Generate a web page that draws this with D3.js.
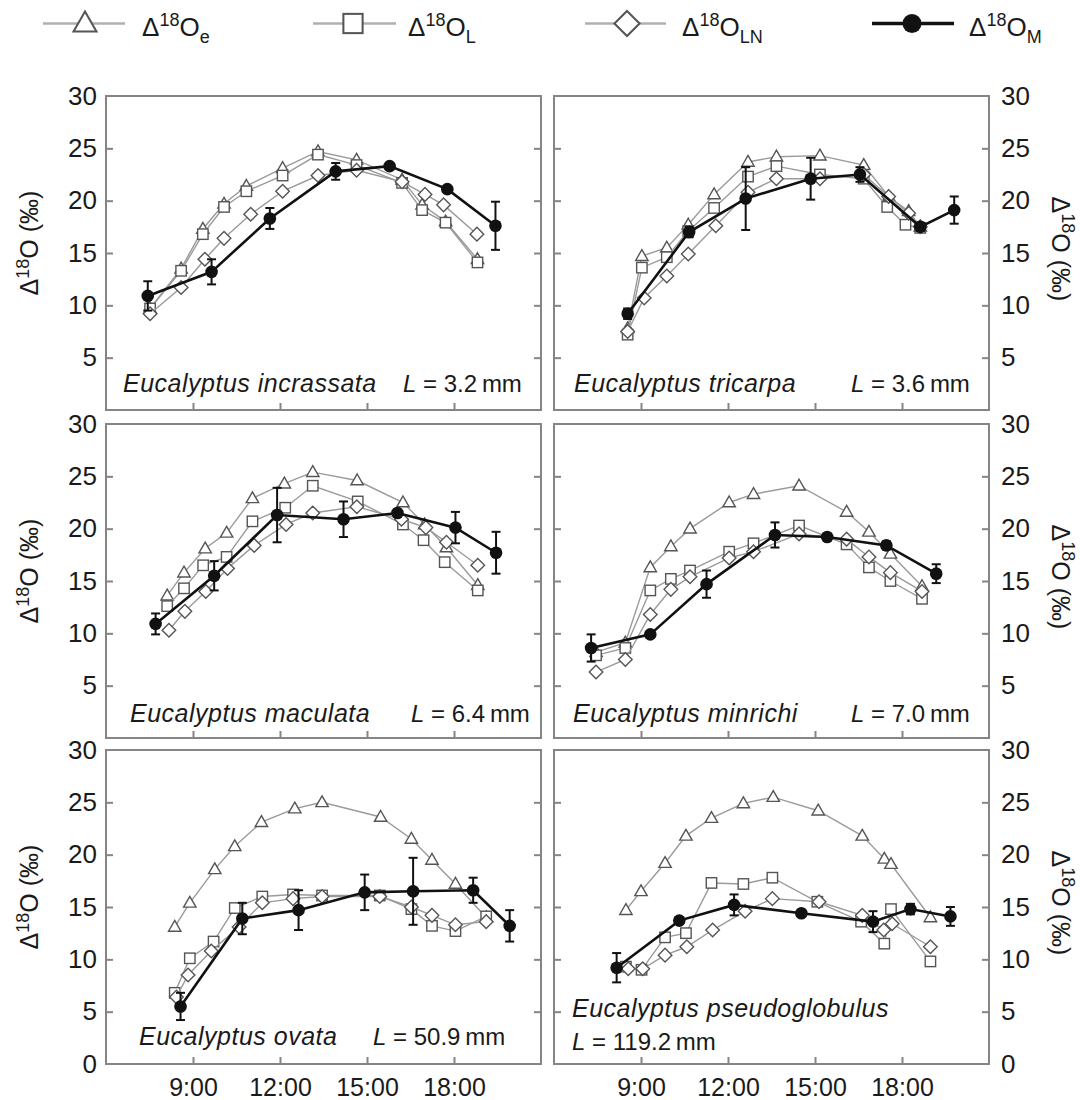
<!DOCTYPE html>
<html>
<head>
<meta charset="utf-8">
<script src="https://cdn.jsdelivr.net/npm/d3@7/dist/d3.min.js"></script>
<style>
  body { margin: 0; background: #fff; }
  svg { display: block; }
  text { font-family: "Liberation Sans", Arial, Helvetica, sans-serif; fill: #1a1a1a; }
</style>
</head>
<body>
<svg id="chart" width="1080" height="1100"></svg>
<script>
// ---- data -------------------------------------------------------------
const species = ['Eucalyptus incrassata', 'Eucalyptus tricarpa', 'Eucalyptus maculata',
                 'Eucalyptus minrichi', 'Eucalyptus ovata', 'Eucalyptus pseudoglobulus'];
const leafLength = ['3.2', '3.6', '6.4', '7.0', '50.9', '119.2'];
const timeTicks = [9, 12, 15, 18];
const timeLabels = ['9:00', '12:00', '15:00', '18:00'];
const yTickMarks = [5, 10, 15, 20, 25];
const yLabelsTop = [5, 10, 15, 20, 25, 30];
const yLabelsBottom = [0, 5, 10, 15, 20, 25, 30];
const legendSubs = ['e', 'L', 'LN', 'M'];

// e / L / LN : [hour, per mil]    M : [hour, per mil, error]
const incrassataE = [[7.52, 9.7], [8.59, 13.5], [9.34, 17.3], [10.07, 19.7], [10.84, 21.4], [12.09, 23.1], [13.31, 24.7], [14.64, 23.9], [16.21, 22.0], [16.9, 19.6], [17.71, 18.0], [18.81, 14.4]];
const incrassataL = [[7.52, 9.7], [8.59, 13.3], [9.34, 16.8], [10.07, 19.4], [10.84, 20.9], [12.09, 22.4], [13.31, 24.4], [14.64, 23.4], [16.21, 21.7], [16.9, 19.1], [17.71, 17.9], [18.81, 14.1]];
const incrassataLN = [[7.52, 9.2], [8.59, 11.7], [9.41, 14.4], [10.07, 16.4], [10.99, 18.7], [12.09, 20.9], [13.31, 22.4], [14.64, 22.9], [16.21, 21.8], [17.0, 20.6], [17.64, 19.6], [18.79, 16.8]];
const incrassataM = [[7.44, 10.9, 1.4], [9.64, 13.2, 1.2], [11.65, 18.3, 1.0], [13.92, 22.8, 0.8], [15.78, 23.3, 0.3], [17.77, 21.1, 0.3], [19.43, 17.6, 2.3]];

const tricarpaE = [[8.54, 7.8], [9.03, 14.7], [9.89, 15.5], [10.63, 17.7], [11.52, 20.6], [12.69, 23.7], [13.67, 24.2], [15.17, 24.3], [16.68, 23.4], [17.54, 20.4], [18.23, 19.0], [18.63, 17.5]];
const tricarpaL = [[8.54, 7.2], [9.03, 13.6], [9.89, 14.6], [10.63, 17.1], [11.52, 19.3], [12.69, 22.3], [13.67, 23.3], [15.17, 22.5], [16.68, 22.1], [17.49, 19.4], [18.12, 17.7], [18.63, 17.4]];
const tricarpaLN = [[8.54, 7.5], [9.11, 10.7], [9.89, 12.8], [10.63, 14.9], [11.58, 17.6], [12.69, 20.8], [13.67, 22.1], [15.17, 22.1], [16.68, 22.5], [17.54, 20.4], [18.23, 18.8], [18.63, 17.5]];
const tricarpaM = [[8.54, 9.2, 0.5], [10.66, 17.0, 0.5], [12.61, 20.2, 3.0], [14.85, 22.1, 2.0], [16.55, 22.5, 0.7], [18.63, 17.5, 0.4], [19.80, 19.1, 1.3]];

const maculataE = [[8.11, 13.6], [8.69, 15.8], [9.42, 18.1], [10.16, 19.6], [11.05, 22.9], [12.15, 24.3], [13.13, 25.4], [14.66, 24.6], [16.24, 22.5], [16.99, 20.4], [17.74, 18.2], [18.82, 14.6]];
const maculataL = [[8.11, 12.6], [8.69, 14.3], [9.35, 16.5], [10.16, 17.3], [11.05, 20.7], [12.18, 22.0], [13.13, 24.1], [14.68, 22.6], [16.24, 20.4], [16.95, 18.9], [17.68, 16.8], [18.82, 14.1]];
const maculataLN = [[8.17, 10.3], [8.72, 12.1], [9.44, 14.0], [10.19, 16.2], [11.11, 18.4], [12.21, 20.4], [13.13, 21.5], [14.65, 22.1], [16.19, 20.9], [17.03, 20.1], [17.74, 18.7], [18.82, 16.5]];
const maculataM = [[7.71, 10.9, 1.0], [9.73, 15.5, 1.4], [11.90, 21.3, 2.6], [14.19, 20.9, 1.7], [16.05, 21.5, 0.3], [18.05, 20.1, 1.5], [19.45, 17.7, 2.0]];

const minrichiE = [[7.45, 8.2], [8.46, 9.1], [9.32, 16.3], [10.03, 18.3], [10.69, 20.0], [12.04, 22.5], [12.88, 23.3], [14.45, 24.1], [16.09, 21.6], [16.86, 19.7], [17.6, 17.6], [18.69, 14.5]];
const minrichiL = [[7.45, 7.9], [8.46, 8.6], [9.32, 14.1], [10.03, 15.2], [10.69, 16.0], [12.04, 17.8], [12.88, 18.6], [14.45, 20.3], [16.09, 18.5], [16.86, 16.3], [17.6, 15.0], [18.69, 13.3]];
const minrichiLN = [[7.45, 6.3], [8.46, 7.5], [9.32, 11.8], [10.03, 14.2], [10.69, 15.4], [12.04, 17.2], [12.88, 17.8], [14.45, 19.5], [16.09, 19.0], [16.86, 17.3], [17.6, 15.8], [18.69, 14.0]];
const minrichiM = [[7.28, 8.6, 1.3], [9.32, 9.9, 0.3], [11.26, 14.7, 1.3], [13.62, 19.4, 1.2], [15.42, 19.2, 0.3], [17.46, 18.4, 0.4], [19.18, 15.7, 0.9]];

const ovataE = [[8.37, 13.1], [8.89, 15.4], [9.75, 18.6], [10.44, 20.8], [11.36, 23.1], [12.51, 24.4], [13.45, 25.0], [15.47, 23.6], [16.53, 21.5], [17.24, 19.5], [18.05, 17.2], [19.11, 14.0]];
const ovataL = [[8.37, 6.8], [8.89, 10.1], [9.71, 11.7], [10.44, 14.9], [11.39, 16.0], [12.45, 16.2], [13.45, 16.1], [15.44, 16.1], [16.53, 14.8], [17.24, 13.2], [18.05, 12.7], [19.11, 14.1]];
const ovataLN = [[8.43, 6.4], [8.83, 8.5], [9.63, 10.8], [10.59, 13.1], [11.39, 15.4], [12.45, 15.8], [13.45, 16.0], [15.44, 16.0], [16.53, 15.0], [17.24, 14.2], [18.05, 13.3], [19.11, 13.6]];
const ovataM = [[8.57, 5.5, 1.3], [10.70, 13.9, 1.5], [12.64, 14.7, 1.9], [14.92, 16.4, 1.7], [16.59, 16.5, 3.2], [18.66, 16.6, 1.2], [19.92, 13.2, 1.5]];

const pseudoglobulusE = [[8.48, 14.7], [9.0, 16.5], [9.83, 19.2], [10.55, 21.8], [11.43, 23.5], [12.53, 24.9], [13.56, 25.5], [15.11, 24.2], [16.63, 21.8], [17.39, 19.6], [17.62, 19.1], [18.98, 14.0]];
const pseudoglobulusL = [[8.48, 9.3], [9.02, 9.0], [9.83, 12.1], [10.55, 12.5], [11.43, 17.3], [12.53, 17.2], [13.53, 17.8], [15.08, 15.5], [16.59, 13.6], [17.39, 11.5], [17.62, 14.8], [18.98, 9.8]];
const pseudoglobulusLN = [[8.56, 9.1], [9.06, 9.1], [9.83, 10.4], [10.58, 11.2], [11.47, 12.8], [12.59, 14.6], [13.53, 15.8], [15.14, 15.5], [16.63, 14.2], [17.37, 12.8], [17.66, 13.4], [18.98, 11.2]];
const pseudoglobulusM = [[8.16, 9.2, 1.4], [10.32, 13.7, 0.3], [12.21, 15.2, 1.0], [14.53, 14.4, 0.2], [17.0, 13.6, 1.0], [18.29, 14.8, 0.5], [19.67, 14.1, 0.9]];

const panelSeries = [
    [incrassataE, incrassataL, incrassataLN, incrassataM],
    [tricarpaE, tricarpaL, tricarpaLN, tricarpaM],
    [maculataE, maculataL, maculataLN, maculataM],
    [minrichiE, minrichiL, minrichiLN, minrichiM],
    [ovataE, ovataL, ovataLN, ovataM],
    [pseudoglobulusE, pseudoglobulusL, pseudoglobulusLN, pseudoglobulusM]
];

// ---- layout -----------------------------------------------------------
const COLX = [106, 554];
const ROWY = [96, 424, 750];
const PW = 435;
const PH = 314;
const TICK = 7;
const FRAME = '#858585';
const LINE_GREY = '#9a9a9a';
const MARK_GREY = '#555';
const FONT = '"Liberation Sans", Arial, Helvetica, sans-serif';

// species label placement: [species dx, L dx, baseline up from bottom, L on second line]
const labelPlace = [
    [17, 297, 18, false], [20, 297, 18, false],
    [24, 305, 16, false], [19, 297, 16, false],
    [33, 267, 19, false], [18, 18, 47, true]
];

const svg = d3.select('#chart');

// marker shapes
const markers = {
    tri: (g) => g.append('path').attr('d', 'M0,-6.5L6.2,4.3L-6.2,4.3Z'),
    sq: (g) => g.append('rect').attr('x', -5.2).attr('y', -5.2).attr('width', 10.4).attr('height', 10.4),
    dia: (g) => g.append('path').attr('d', 'M0,-6.8L6.8,0L0,6.8L-6.8,0Z')
};
const markerKeys = ['tri', 'sq', 'dia'];

function deltaText(sel, sub, base, small, subDy) {
    sel.append('tspan').text('\u0394');
    sel.append('tspan').attr('font-size', small).attr('dy', -base * 0.38).text('18');
    sel.append('tspan').attr('dy', base * 0.38).text('O');
    if (sub) {
        sel.append('tspan').attr('font-size', small).attr('dy', subDy).text(sub);
    }
}

function axisTitle(x, y, rot) {
    const t = svg.append('text')
        .attr('transform', `translate(${x},${y}) rotate(${rot})`)
        .attr('text-anchor', 'middle')
        .attr('font-size', 25);
    deltaText(t, null, 25, 18, 0);
    t.append('tspan').text(' (\u2030)');
}

panelSeries.forEach((series, i) => {
    const col = i % 2;
    const row = Math.floor(i / 2);
    const left = COLX[col];
    const top = ROWY[row];

    const x = d3.scaleLinear().domain([6, 21]).range([left, left + PW]);
    const y = d3.scaleLinear().domain([0, 30]).range([top + PH, top]);

    const g = svg.append('g');

    // inward ticks
    g.append('g').attr('transform', `translate(${left},0)`)
        .call(d3.axisLeft(y).tickValues(yTickMarks).tickSize(-TICK).tickFormat(''))
        .call((a) => a.select('.domain').remove());
    g.append('g').attr('transform', `translate(${left + PW},0)`)
        .call(d3.axisRight(y).tickValues(yTickMarks).tickSize(-TICK).tickFormat(''))
        .call((a) => a.select('.domain').remove());
    g.append('g').attr('transform', `translate(0,${top + PH})`)
        .call(d3.axisBottom(x).tickValues(timeTicks).tickSize(-TICK).tickFormat(''))
        .call((a) => a.select('.domain').remove());
    g.selectAll('.tick line').attr('stroke', FRAME).attr('stroke-width', 2);

    // frame
    g.append('rect')
        .attr('x', left).attr('y', top).attr('width', PW).attr('height', PH)
        .attr('fill', 'none').attr('stroke', FRAME).attr('stroke-width', 2);

    // y tick labels (outer side)
    const labs = row === 2 ? yLabelsBottom : yLabelsTop;
    const labAxis = col === 0
        ? d3.axisLeft(y).tickValues(labs).tickSize(0).tickPadding(9)
        : d3.axisRight(y).tickValues(labs).tickSize(0).tickPadding(12);
    const la = g.append('g')
        .attr('transform', `translate(${col === 0 ? left : left + PW},0)`)
        .call(labAxis);
    la.select('.domain').remove();
    la.selectAll('text').attr('font-size', 26)
        .attr('font-family', FONT).attr('fill', '#1a1a1a');

    // axis titles
    if (col === 0) axisTitle(38, top + PH / 2 - 10, -90);
    else axisTitle(1052, top + PH / 2 - 4, 90);

    // x labels under bottom row
    if (row === 2) {
        const xa = g.append('g').attr('transform', `translate(0,${top + PH})`)
            .call(d3.axisBottom(x).tickValues(timeTicks).tickSize(0).tickPadding(14)
                .tickFormat((d, k) => timeLabels[k]));
        xa.select('.domain').remove();
        xa.selectAll('text').attr('font-size', 25)
            .attr('font-family', FONT).attr('fill', '#1a1a1a');
    }

    const line = d3.line().x((d) => x(d[0])).y((d) => y(d[1]));

    // grey series
    series.slice(0, 3).forEach((data, s) => {
        g.append('path').datum(data)
            .attr('d', line)
            .attr('fill', 'none').attr('stroke', LINE_GREY).attr('stroke-width', 1.4);
        data.forEach((d) => {
            const m = g.append('g').attr('transform', `translate(${x(d[0])},${y(d[1])})`);
            markers[markerKeys[s]](m)
                .attr('fill', '#fff').attr('stroke', MARK_GREY).attr('stroke-width', 1.4);
        });
    });

    // measured series with error bars
    const mData = series[3];
    g.append('path').datum(mData)
        .attr('d', line)
        .attr('fill', 'none').attr('stroke', '#111').attr('stroke-width', 2.6);
    const eb = g.selectAll('.err').data(mData).enter().append('g')
        .attr('stroke', '#111').attr('stroke-width', 2);
    eb.append('line')
        .attr('x1', (d) => x(d[0])).attr('x2', (d) => x(d[0]))
        .attr('y1', (d) => y(d[1] - d[2])).attr('y2', (d) => y(d[1] + d[2]));
    eb.append('line')
        .attr('x1', (d) => x(d[0]) - 4.5).attr('x2', (d) => x(d[0]) + 4.5)
        .attr('y1', (d) => y(d[1] + d[2])).attr('y2', (d) => y(d[1] + d[2]));
    eb.append('line')
        .attr('x1', (d) => x(d[0]) - 4.5).attr('x2', (d) => x(d[0]) + 4.5)
        .attr('y1', (d) => y(d[1] - d[2])).attr('y2', (d) => y(d[1] - d[2]));
    g.selectAll('.pt').data(mData).enter().append('circle')
        .attr('cx', (d) => x(d[0])).attr('cy', (d) => y(d[1]))
        .attr('r', 6.3).attr('fill', '#111');

    // species label
    const [sdx, ldx, up, twoLines] = labelPlace[i];
    const base = top + PH - up;
    g.append('text')
        .attr('x', left + sdx).attr('y', base)
        .attr('font-size', 25).attr('letter-spacing', 0.5).attr('font-style', 'italic')
        .text(species[i]);
    const lt = g.append('text')
        .attr('x', left + ldx).attr('y', twoLines ? base + 33 : base)
        .attr('font-size', 24);
    lt.append('tspan').attr('font-style', 'italic').text('L');
    lt.append('tspan').text(` = ${leafLength[i]}\u2009mm`);
});

// ---- legend ------------------------------------------------------------
const legendPos = [[43, 125, 85, 142], [313, 396, 353, 408], [585, 666, 627, 682], [872, 954, 912, 969]];
const LY = 23.5;
legendSubs.forEach((sub, k) => {
    const [x1, x2, mx, tx] = legendPos[k];
    const lg = svg.append('g');
    const isM = k === 3;
    lg.append('line')
        .attr('x1', x1).attr('x2', x2).attr('y1', LY).attr('y2', LY)
        .attr('stroke', isM ? '#111' : '#b0b0b0').attr('stroke-width', isM ? 3.5 : 2.5);
    const m = lg.append('g').attr('transform', `translate(${mx},${LY})`);
    if (isM) {
        m.append('circle').attr('r', 9.5).attr('fill', '#111');
    } else {
        markers[markerKeys[k]](m.append('g').attr('transform', 'scale(1.85)'))
            .attr('fill', '#fff').attr('stroke', MARK_GREY).attr('stroke-width', 1.1);
    }
    const t = lg.append('text').attr('x', tx).attr('y', 36).attr('font-size', 26);
    deltaText(t, sub, 26, 18, 7);
});
</script>
</body>
</html>
